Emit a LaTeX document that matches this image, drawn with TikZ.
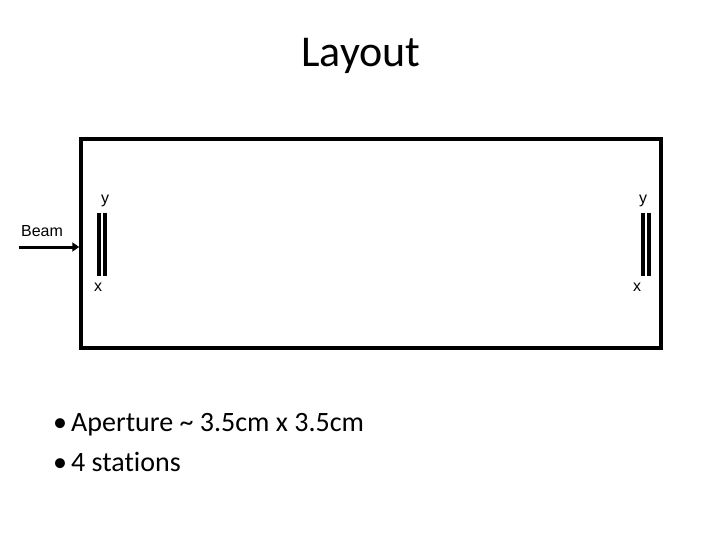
\documentclass[tikz,border=0pt]{standalone}
\usepackage{fontspec}
\setmainfont{Carlito}[Ligatures=NoCommon]
\newfontfamily\arialfont{Liberation Sans}
\usetikzlibrary{arrows.meta}

\tikzset{
  plane/.style={line width=3.5pt},
  axislbl/.style={font=\arialfont\fontsize{16}{19}\selectfont, inner sep=0pt},
  bullettxt/.style={font=\fontsize{28}{34}\selectfont, anchor=base west, inner sep=0pt}
}

\begin{document}
\begin{tikzpicture}[x=1pt,y=-1pt]
\useasboundingbox (0,0) rectangle (720,540);
\node[anchor=base] (title) at (361,67) {\fontsize{44}{52}\selectfont Layout};

% chamber
\node[draw, line width=3.5pt, minimum width=580pt, minimum height=209pt, inner sep=0pt] (box) at (371,243.5) {};

% beam
\coordinate (beam) at (19,247);
\draw[line width=3pt, -{Triangle[length=7pt,width=9pt]}] (beam) -- (box.west |- beam);
\node[axislbl] (beamlbl) at (42,231) {Beam};

% stations: base x, x of y label, x of x label
\foreach \s/\px/\yx/\xx in {l/99/105/98, r/643/643/637} {
  \draw[plane] (\px,213) -- (\px,276);
  \draw[plane] (\px+6,213) -- (\px+6,276);
  \node[axislbl] (y\s) at (\yx,201) {y};
  \node[axislbl] (x\s) at (\xx,287) {x};
}

% notes
\node[bullettxt] (dot1) at (53,431) {\textbullet};
\node[bullettxt] (ap) at (71,431) {Aperture \textasciitilde{} 3.5cm x 3.5cm};
\node[bullettxt] (dot2) at (53,471) {\textbullet};
\node[bullettxt] (st) at (71,471) {4 stations};
\end{tikzpicture}
\end{document}
